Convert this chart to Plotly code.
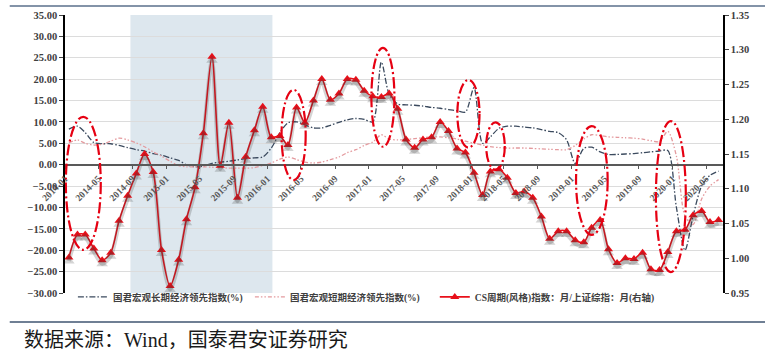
import pandas as pd
import plotly.graph_objects as go

# ---------------- data ----------------
start_month = "2014-01-01"
n_months = 78
months = pd.date_range(start_month, periods=n_months, freq="MS") + pd.Timedelta(days=14)

long_term = [8.3, 9.0, 7.5, 5.2, 4.9, 4.9, 4.5, 4.0, 3.5, 3.2,
             2.6, 2.2, 1.6, 1.0, 0.0, -0.5, -0.3, 0.3, 0.6, 0.8,
             1.1, 1.4, 1.6, 1.8, 3.9, 7.5, 9.8, 10.0, 9.3, 8.6,
             8.6, 9.2, 9.9, 10.5, 10.8, 10.6, 10.0, 24.0, 16.5, 14.2,
             14.0, 13.9, 13.7, 13.4, 13.2, 12.9, 12.6, 12.3, 18.0, 5.0,
             6.5, 8.5, 9.0, 9.0, 8.8, 8.6, 8.2, 7.8, 7.5, 5.8,
             0.3, 3.8, 4.1, 3.0, 2.4, 2.4, 2.5, 2.6, 2.8, 3.0,
             3.2, 3.3, -10.0, -20.0, -12.0, -5.0, -2.5, -1.5]

short_term = [5.1, 5.8, 5.0, 4.6, 4.8, 5.5, 6.2, 5.8, 5.1, 4.2,
              3.0, 2.0, 0.8, -0.2, -0.5, -0.5, -0.5, -0.6, -0.7, -0.8,
              -0.8, -0.8, -0.7, -0.2, 0.4, 1.3, 1.8, 1.2, 0.6, 0.4,
              0.6, 1.2, 1.8, 2.8, 3.5, 4.5, 5.3, 7.0, 6.0, 5.8,
              5.9, 6.1, 6.3, 6.5, 6.5, 6.3, 6.0, 5.5, 5.0, 4.6,
              4.2, 4.0, 3.9, 3.9, 3.9, 3.8, 3.7, 3.6, 3.5, 3.5,
              4.5, 6.0, 7.0, 6.8, 6.5, 6.4, 6.3, 6.2, 6.0, 5.6,
              5.4, 7.8, 2.0, -12.0, -14.0, -8.0, -5.0, -3.5]

cs_ratio = [1.001, 1.034, 1.034, 1.014, 0.997, 1.008, 1.054, 1.090, 1.122, 1.150,
            1.124, 1.012, 0.960, 0.998, 1.056, 1.102, 1.180, 1.290, 1.133, 1.195,
            1.087, 1.146, 1.184, 1.218, 1.174, 1.176, 1.163, 1.217, 1.195, 1.227,
            1.258, 1.228, 1.237, 1.258, 1.257, 1.241, 1.233, 1.232, 1.237, 1.215,
            1.171, 1.159, 1.171, 1.174, 1.196, 1.183, 1.158, 1.152, 1.123, 1.091,
            1.125, 1.128, 1.116, 1.094, 1.096, 1.087, 1.060, 1.028, 1.039, 1.039,
            1.026, 1.023, 1.044, 1.055, 1.013, 0.993, 1.000, 0.999, 1.008, 0.984,
            0.983, 1.009, 1.039, 1.041, 1.062, 1.068, 1.052, 1.055]

tick_labels = ["2014-01", "2014-05", "2014-09", "2015-01", "2015-05", "2015-09",
               "2016-01", "2016-05", "2016-09", "2017-01", "2017-05", "2017-09",
               "2018-01", "2018-05", "2018-09", "2019-01", "2019-05", "2019-09",
               "2020-01", "2020-05"]

series_names = ["国君宏观长期经济领先指数(%)",
                "国君宏观短期经济领先指数(%)",
                "CS周期(风格)指数：月/上证综指：月(右轴)"]

# shaded period (start, end)
shade_period = ["2014-08-25", "2016-01-19"]

# highlight ellipses: (start date, end date, low value, high value) on left axis
highlight_starts = ["2014-01-04", "2016-02-21", "2017-01-10", "2017-11-16",
                    "2018-02-28", "2019-01-18", "2019-11-02"]
highlight_ends = ["2014-05-10", "2016-05-18", "2017-04-03", "2018-02-04",
                  "2018-05-06", "2019-05-12", "2020-02-18"]
highlight_lows = [-19.9, -3.6, 4.2, 4.0, -1.2, -16.4, -25.1]
highlight_highs = [11.2, 17.5, 27.3, 19.8, 9.9, 9.0, 10.2]

source_text = "数据来源：Wind，国泰君安证券研究"

# ---------------- figure ----------------
LEFT_RANGE = [-30, 35]
RIGHT_RANGE = [0.95, 1.35]
serif = "Liberation Serif, Noto Sans CJK SC"
legend_font = dict(family=serif, size=9.5, color="#404040", weight="bold")

fig = go.Figure()

fig.add_trace(go.Scatter(
    x=months, y=long_term, name=series_names[0], mode="lines", legend="legend",
    line=dict(color="#3b4a5e", width=1.3, dash="6px,2px,1.5px,2px", shape="spline", smoothing=0.8),
    yaxis="y"))
fig.add_trace(go.Scatter(
    x=months, y=short_term, name=series_names[1], mode="lines", legend="legend2",
    line=dict(color="#e49a9e", width=1.3, dash="4px,2px,1.5px,2px,1.5px,2px", shape="spline", smoothing=0.8),
    yaxis="y"))
# soft shadow under the CS line
fig.add_trace(go.Scatter(
    x=months, y=cs_ratio, mode="lines+markers", showlegend=False, hoverinfo="skip",
    line=dict(color="rgba(60,60,60,0.22)", width=4, shape="spline", smoothing=0.8),
    marker=dict(symbol="triangle-up", size=10, color="rgba(60,60,60,0.22)"),
    yaxis="y3"))
fig.add_trace(go.Scatter(
    x=months, y=cs_ratio, name=series_names[2], mode="lines+markers", legend="legend3",
    line=dict(color="#e8101a", width=1.6, shape="spline", smoothing=0.8),
    marker=dict(symbol="triangle-up", size=8, color="#e8101a"),
    yaxis="y2"))

shapes = [dict(type="rect", xref="x", yref="paper", x0=shade_period[0], x1=shade_period[1],
               y0=0, y1=1, fillcolor="#dde7ee", line=dict(width=0), layer="below")]
for s, e, lo, hi in zip(highlight_starts, highlight_ends, highlight_lows, highlight_highs):
    shapes.append(dict(type="circle", xref="x", yref="y", x0=s, x1=e, y0=lo, y1=hi,
                       line=dict(color="#e60012", width=2.2, dash="11px,3px,2px,3px"),
                       fillcolor="rgba(0,0,0,0)", layer="above"))
# frame lines of the report page
shapes.append(dict(type="line", xref="paper", yref="paper", x0=-0.084, x1=1.07, y0=1.0324, y1=1.0324,
                   line=dict(color="#8393a8", width=2)))
shapes.append(dict(type="line", xref="paper", yref="paper", x0=-0.084, x1=1.07, y0=-0.104, y1=-0.104,
                   line=dict(color="#6f7f94", width=2)))

tick_vals = [pd.Timestamp(t + "-01") for t in tick_labels]
zero_pos = (0 - LEFT_RANGE[0]) / (LEFT_RANGE[1] - LEFT_RANGE[0])


def legend_at(x):
    return dict(orientation="h", x=x, xanchor="left", y=-0.014, yanchor="middle",
                font=legend_font, bgcolor="rgba(0,0,0,0)", itemwidth=30)


fig.update_layout(
    width=765, height=362,
    margin=dict(l=65, r=42, t=15, b=69, autoexpand=False),
    paper_bgcolor="white", plot_bgcolor="white",
    showlegend=True,
    legend=legend_at(0.012),
    legend2=legend_at(0.281),
    legend3=legend_at(0.562),
    xaxis=dict(type="date", range=["2014-01-01", "2020-07-01"],
               tickvals=tick_vals, ticktext=tick_labels, tickangle=-45,
               tickfont=dict(family=serif, size=9.5, color="#595959", weight="bold"),
               showgrid=False, showline=True, linecolor="#595959", linewidth=1.5,
               ticks="outside", ticklen=4, tickcolor="#595959",
               anchor="free", position=zero_pos, zeroline=False, automargin=False),
    yaxis=dict(range=LEFT_RANGE, dtick=5, tickformat=".2f",
               tickfont=dict(family=serif, size=10.5, color="#404040", weight="bold"),
               showgrid=True, gridcolor="#dcdcdc", gridwidth=1,
               showline=True, linecolor="#000000", linewidth=1.5,
               ticks="outside", ticklen=4, zeroline=False, automargin=False),
    yaxis2=dict(range=RIGHT_RANGE, dtick=0.05, tickformat=".2f", overlaying="y", side="right",
                tickfont=dict(family=serif, size=10.5, color="#404040", weight="bold"),
                showgrid=False, showline=True, linecolor="#000000", linewidth=1.5,
                ticks="outside", ticklen=4, zeroline=False, anchor="x", automargin=False),
    yaxis3=dict(range=[RIGHT_RANGE[0] + 0.005, RIGHT_RANGE[1] + 0.005], overlaying="y",
                visible=False),
    shapes=shapes,
    annotations=[dict(text=source_text, xref="paper", yref="paper", x=-0.065, y=-0.169,
                      xanchor="left", yanchor="middle", showarrow=False,
                      font=dict(family=serif, size=20, color="#1a1a1a"))],
)

# remove the browser's default 8px page margin so the figure sits at the window origin
fig.write_html("out.html", config={"displayModeBar": False},
               post_script="document.body.style.margin='0';")
